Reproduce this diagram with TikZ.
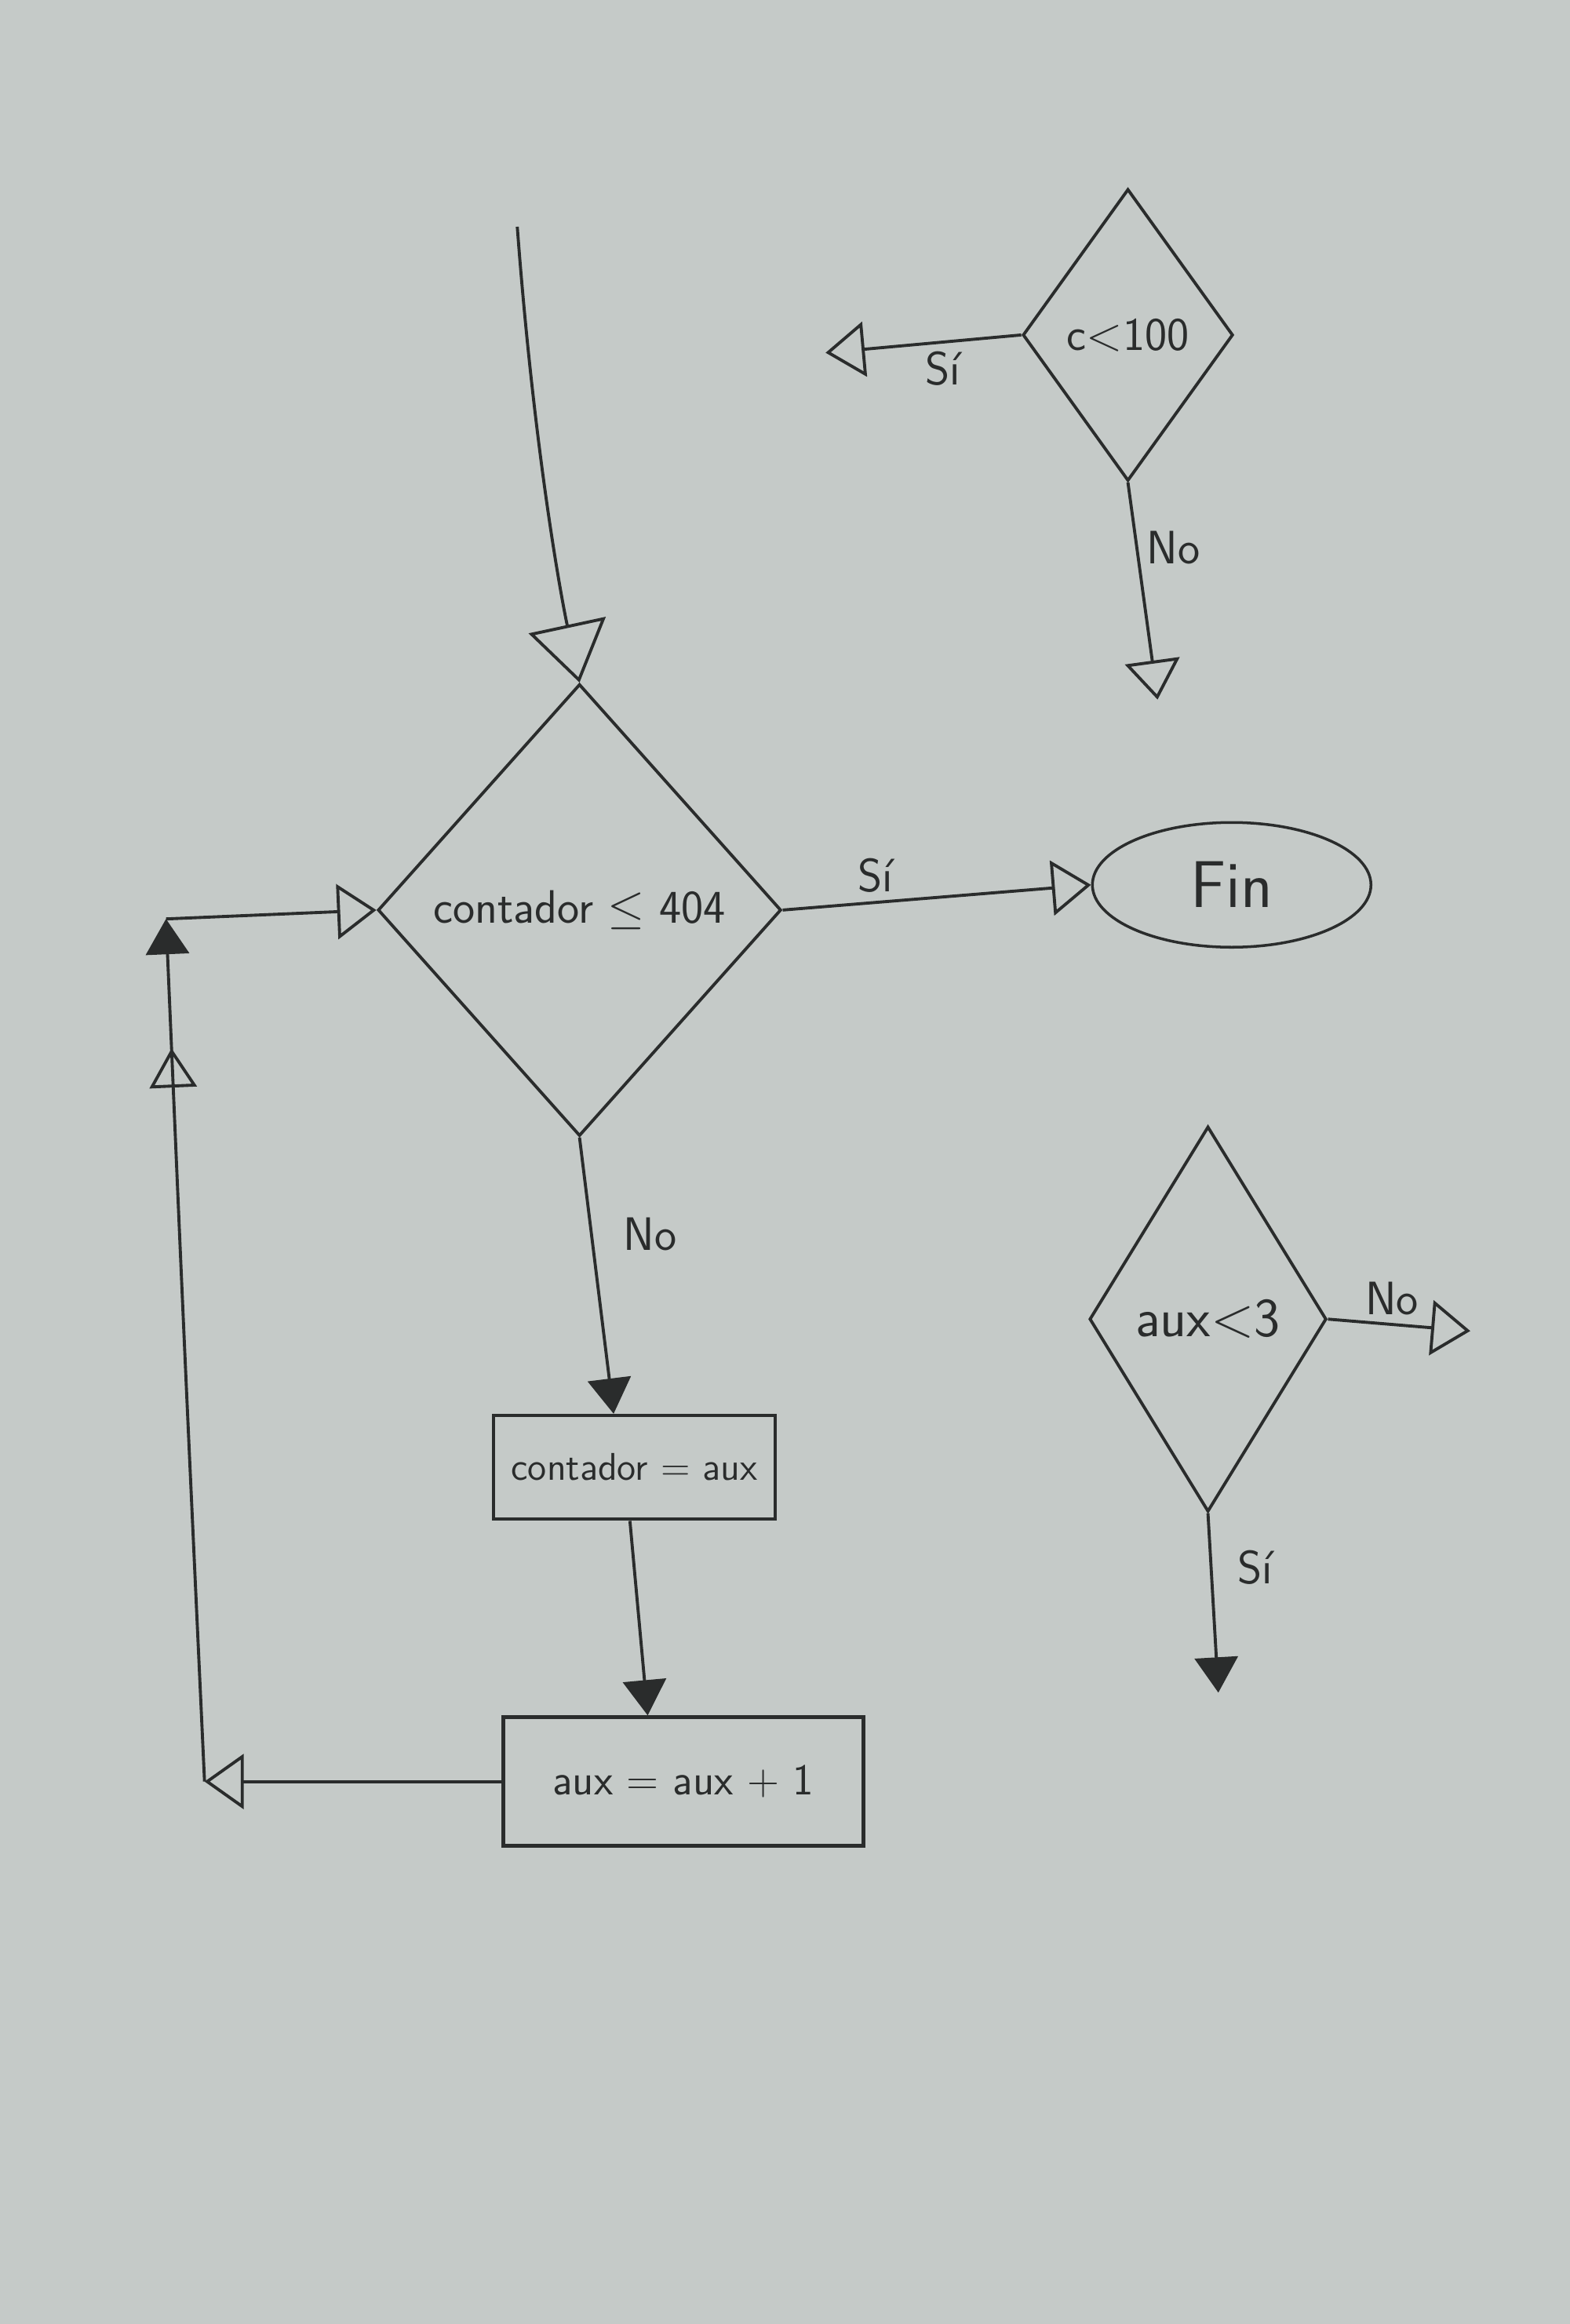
\documentclass[tikz,border=0pt]{standalone}
\usepackage{fontspec}
\usepackage{tikz}
\usetikzlibrary{arrows.meta,shapes.geometric,calc,positioning,decorations.markings}
\definecolor{paper}{RGB}{197,202,200}
\definecolor{ink}{RGB}{42,44,44}

\begin{document}
\begin{tikzpicture}
    [   x = 0.018886cm
    ,   y = -0.018886cm
    ,   every node/.style = {text = ink, font = \sffamily}
    ,   decision/.style =
        {   draw = ink
        ,   diamond
        ,   inner sep = 0pt
        ,   line width = 1.1pt
        ,   font = \fontsize{17}{20}\selectfont\sffamily
        }
    ,   process/.style =
        {   draw = ink
        ,   rectangle
        ,   inner sep = 0pt
        ,   line width = 1.3pt
        ,   font = \fontsize{14}{17}\selectfont\sffamily
        }
    ,   terminal/.style =
        {   draw = ink
        ,   ellipse
        ,   inner sep = 0pt
        ,   line width = 1pt
        ,   font = \fontsize{24}{28}\selectfont\sffamily
        }
    ,   lbl/.style = {font = \fontsize{17}{20}\selectfont\sffamily, inner sep = 3pt}
    ,   flow/.style =
        {   draw = ink
        ,   line width = 1.1pt
        ,   -{Triangle[open, length = 5mm, width = 7mm]}
        }
    ,   flowfill/.style =
        {   draw = ink
        ,   line width = 1.1pt
        ,   -{Triangle[length = 4.5mm, width = 5.5mm]}
        }
    ,   midopen/.style =
        {   postaction = decorate
        ,   decoration = {markings, mark = at position #1 with
                {\arrow[ink, line width = 1.1pt]{Triangle[open, length = 5mm, width = 6mm]}}}
        }
    ]
    % paper
    \fill[paper] (0,0) rectangle (1059,1568);
    \useasboundingbox (0,0) rectangle (1059,1568);

    % main loop
    \node[decision, minimum width = 5.14cm, minimum height = 5.76cm] (cond) at (391,614) {contador $\leq$ 404};
    \node[terminal, minimum width = 3.55cm, minimum height = 1.59cm] (fin) at (831,597) {Fin};
    \node[process, minimum width = 3.59cm, minimum height = 1.32cm] (asign) at (428,990) {contador = aux};
    \node[process, minimum width = 4.59cm, minimum height = 1.64cm, font = \fontsize{16}{19}\selectfont\sffamily] (incr) at (461,1202) {aux = aux + 1};

    % side decisions
    \node[decision, minimum width = 2.68cm, minimum height = 3.72cm] (condc) at (761,226) {c$<$100};
    \node[decision, minimum width = 3.02cm, minimum height = 4.91cm, font = \fontsize{20}{24}\selectfont\sffamily] (condaux) at (815,890) {aux$<$3};

    \coordinate (start) at (349,153);
    \coordinate (back) at (138,1202);
    \coordinate (corner) at (112,620);
    \coordinate (cyes) at (557,238);
    \coordinate (cno) at (781,472);
    \coordinate (ano) at (992,898);
    \coordinate (ayes) at (822,1142);

    \draw[draw = ink, line width = 1.1pt, -{Triangle[open, length = 7.5mm, width = 10mm]}]
        (start) .. controls (360,300) and (378,400) .. (cond.north);
    \draw[flow] (cond.east) -- node[lbl, above, pos = 0.3] {Sí} (fin.west);
    \draw[flowfill] (cond.south) -- node[lbl, right = 8pt, pos = 0.35] {No} ($(asign.north)+(-14,0)$);
    \draw[flowfill] ($(asign.south)+(-3,0)$) -- ($(incr.north)+(-24,0)$);
    \draw[flow] (incr.west) -- (back);
    \draw[flowfill, midopen = 0.85] (back) .. controls (124,900) .. (corner);
    \draw[flow] (corner) -- (cond.west);

    \draw[flow] (condc.west) -- node[lbl, below, pos = 0.4] {Sí} (cyes);
    \draw[flow] (condc.south) -- node[lbl, right, pos = 0.3] {No} (cno);
    \draw[flow] (condaux.east) -- node[lbl, above, pos = 0.45] {No} (ano);
    \draw[flowfill] (condaux.south) -- node[lbl, right = 6pt, pos = 0.3] {Sí} (ayes);
\end{tikzpicture}
\end{document}
